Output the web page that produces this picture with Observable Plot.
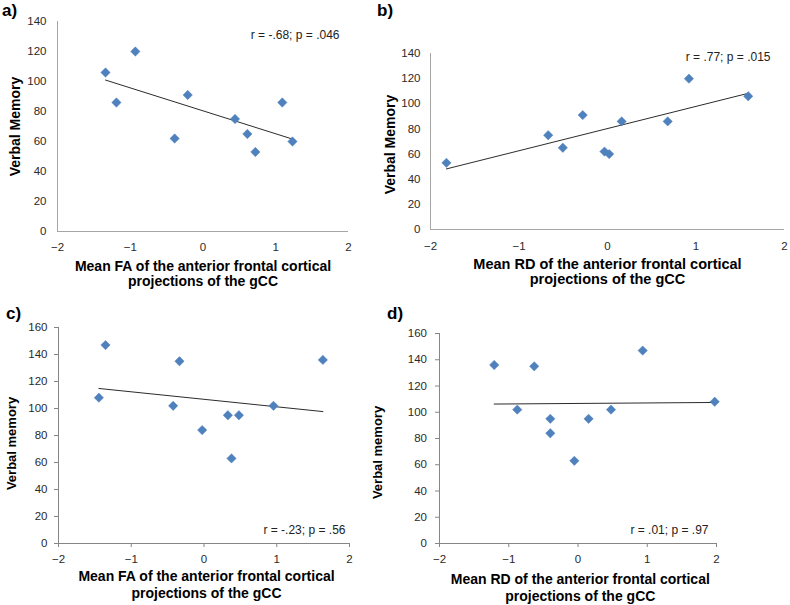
<!DOCTYPE html>
<html>
<head>
<meta charset="utf-8">
<script src="https://cdn.jsdelivr.net/npm/d3@7"></script>
<script src="https://cdn.jsdelivr.net/npm/@observablehq/plot@0.6"></script>
<style>
  body { margin: 0; background: #fff; }
  #chart { position: relative; width: 790px; height: 605px; overflow: hidden; background: #fff;
           font-family: "Liberation Sans", Arial, sans-serif; }
  #chart svg { position: absolute; }
</style>
</head>
<body>
<div id="chart"></div>
<script>
// ---- data ----
const panelLabels = ["a)", "b)", "c)", "d)"];
const xTicks = [-2, -1, 0, 1, 2];
const yTicksAB = [0, 20, 40, 60, 80, 100, 120, 140];
const yTicksCD = [0, 20, 40, 60, 80, 100, 120, 140, 160];

// a) Mean FA vs Verbal Memory
const faA     = [-1.34, -1.19, -0.93, -0.39, -0.21, 0.44, 0.61, 0.72, 1.09, 1.23];
const verbalA = [106, 86, 120, 62, 91, 75, 65, 53, 86, 60];
// b) Mean RD vs Verbal Memory
const rdB     = [-1.82, -0.67, -0.505, -0.28, -0.034, 0.019, 0.16, 0.68, 0.92, 1.59];
const verbalB = [53, 75, 65, 91, 62, 60, 86, 86, 120, 106];
// c) Mean FA vs Verbal memory
const faC     = [-1.445, -1.354, -0.424, -0.337, -0.025, 0.328, 0.378, 0.48, 0.955, 1.634];
const verbalC = [108, 147, 102, 135, 84, 95, 63, 95, 102, 136];
// d) Mean RD vs Verbal memory
const rdD     = [-1.21, -0.877, -0.632, -0.40, -0.40, -0.053, 0.153, 0.477, 0.934, 1.974];
const verbalD = [136, 102, 135, 95, 84, 63, 95, 102, 147, 108];

const statsText = ["r = -.68; p = .046", "r = .77; p = .015", "r = -.23; p = .56", "r = .01; p = .97"];
const xTitles = [
  "Mean FA of the anterior frontal cortical\nprojections of the gCC",
  "Mean RD of the anterior frontal cortical\nprojections of the gCC",
  "Mean FA of the anterior frontal cortical\nprojections of the gCC",
  "Mean RD of the anterior frontal cortical\nprojections of the gCC"
];
const yTitles = ["Verbal Memory", "Verbal Memory", "Verbal memory", "Verbal memory"];

// ---- layout / style ----
const FONT = '"Liberation Sans", Arial, sans-serif';
const BLUE = "#4F81BD";
const chart = document.getElementById("chart");

function panel(cfg) {
  const data = cfg.xs.map((x, i) => ({x, y: cfg.ys[i]}));
  const svg = Plot.plot({
    width: cfg.width, height: cfg.height,
    marginLeft: cfg.ml, marginRight: cfg.mr, marginTop: cfg.mt, marginBottom: cfg.mb,
    x: {domain: [-2, 2], label: null},
    y: {domain: [0, cfg.yTicks[cfg.yTicks.length - 1]], label: null},
    style: {fontFamily: FONT, fontSize: "11.5px", color: "#2a2a2a", background: "transparent", overflow: "visible"},
    marks: [
      Plot.ruleY([0], {stroke: cfg.axisColor}),
      Plot.ruleX([-2], {stroke: cfg.axisColor}),
      Plot.axisX(xTicks, {tickSize: cfg.tickSize, tickPadding: cfg.xPad, stroke: cfg.axisColor, fill: "#2a2a2a", label: null}),
      Plot.axisY(cfg.yTicks, {tickSize: cfg.tickSize, tickPadding: cfg.yPad, stroke: cfg.axisColor, fill: "#2a2a2a", label: null}),
      Plot.linearRegressionY(data, {x: "x", y: "y", ci: 0, stroke: "#2b2b2b", strokeWidth: 1}),
      Plot.dot(data, {x: "x", y: "y", symbol: "diamond2", r: 4.2, fill: BLUE, stroke: BLUE, strokeWidth: 0.5}),
      Plot.text([cfg.stats], {text: d => d, frameAnchor: cfg.statsAnchor, textAnchor: "end", lineAnchor: "bottom",
        dx: cfg.statsDx, dy: cfg.statsDy, fontSize: 12, fill: "#222"}),
      Plot.text([cfg.xTitle], {text: d => d, frameAnchor: "bottom", textAnchor: "middle", lineAnchor: "bottom",
        dx: cfg.xtDx, dy: cfg.xtDy, lineHeight: cfg.xtLh, fontSize: cfg.xtSize, fontWeight: "bold", fill: "#000"}),
      Plot.text([cfg.yTitle], {text: d => d, frameAnchor: "left", textAnchor: "middle", lineAnchor: "middle", rotate: -90,
        dx: cfg.ytDx, dy: cfg.ytDy, fontSize: cfg.ytSize, fontWeight: "bold", fill: "#000"})
    ]
  });
  svg.style.left = cfg.left + "px";
  svg.style.top = cfg.top + "px";
  chart.append(svg);
}

panel({xs: faA, ys: verbalA, yTicks: yTicksAB, stats: statsText[0], xTitle: xTitles[0], yTitle: yTitles[0],
  left: 0, top: 0, width: 375, height: 300, ml: 57, mr: 27, mt: 21, mb: 69,
  axisColor: "#a6a6a6", tickSize: 0, xPad: 11, yPad: 11,
  statsAnchor: "top-right", statsDx: -9, statsDy: 17.5,
  xtDx: 0, xtDy: 54.5, xtLh: 1.04, xtSize: 14, ytDx: -42, ytDy: 0, ytSize: 14});

panel({xs: rdB, ys: verbalB, yTicks: yTicksAB, stats: statsText[1], xTitle: xTitles[1], yTitle: yTitles[1],
  left: 375, top: 0, width: 415, height: 300, ml: 55, mr: 6, mt: 53, mb: 71,
  axisColor: "#a6a6a6", tickSize: 0, xPad: 12, yPad: 10,
  statsAnchor: "top-right", statsDx: -14, statsDy: 7.2,
  xtDx: 0, xtDy: 54.3, xtLh: 1.04, xtSize: 14.5, ytDx: -40, ytDy: 3, ytSize: 14});

panel({xs: faC, ys: verbalC, yTicks: yTicksCD, stats: statsText[2], xTitle: xTitles[2], yTitle: yTitles[2],
  left: 0, top: 300, width: 375, height: 305, ml: 58, mr: 26, mt: 27, mb: 62,
  axisColor: "#868686", tickSize: 4, xPad: 7.5, yPad: 7,
  statsAnchor: "bottom-right", statsDx: -4, statsDy: -9.7,
  xtDx: 2.5, xtDy: 54.7, xtLh: 1.26, xtSize: 14, ytDx: -46.6, ytDy: 8, ytSize: 13});

panel({xs: rdD, ys: verbalD, yTicks: yTicksCD, stats: statsText[3], xTitle: xTitles[3], yTitle: yTitles[3],
  left: 360, top: 300, width: 430, height: 305, ml: 79, mr: 74, mt: 33, mb: 62,
  axisColor: "#868686", tickSize: 4, xPad: 7.5, yPad: 8.5,
  statsAnchor: "bottom-right", statsDx: -8, statsDy: -9.7,
  xtDx: 2.3, xtDy: 57.3, xtLh: 1.21, xtSize: 14, ytDx: -61.3, ytDy: 14, ytSize: 13});

// panel letters
const overlay = d3.create("svg").attr("width", 790).attr("height", 605)
  .style("left", "0px").style("top", "0px").style("pointer-events", "none");
const letterPos = [[2, 16], [377, 16], [6, 319], [387, 319]];
overlay.selectAll("text").data(panelLabels).join("text")
  .attr("x", (d, i) => letterPos[i][0]).attr("y", (d, i) => letterPos[i][1])
  .attr("font-family", FONT).attr("font-size", 17).attr("font-weight", "bold").attr("fill", "#000")
  .text(d => d);
chart.append(overlay.node());
</script>
</body>
</html>
